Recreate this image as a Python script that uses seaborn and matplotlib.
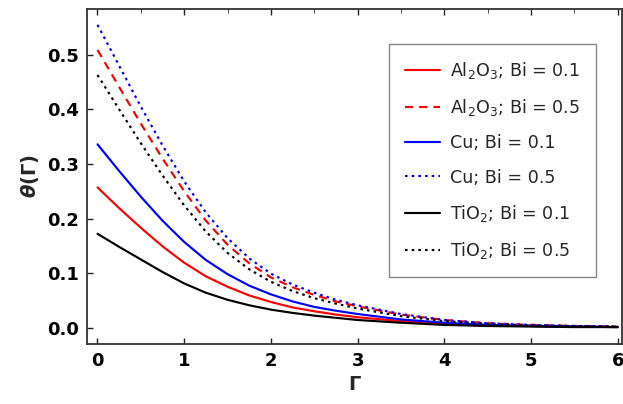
import numpy as np
import pandas as pd
import matplotlib
matplotlib.use("Agg")
import matplotlib.pyplot as plt
import seaborn as sns

gamma = [0, 0.25, 0.5, 0.75, 1.0, 1.25, 1.5, 1.75, 2.0, 2.25, 2.5, 2.75, 3.0, 3.5, 4.0, 4.5, 5.0, 5.5, 6.0]

al2o3_bi01 = [0.257, 0.219, 0.183, 0.149, 0.119, 0.094, 0.075, 0.059, 0.047, 0.037, 0.030, 0.024, 0.019, 0.012, 0.007, 0.004, 0.003, 0.002, 0.001]
al2o3_bi05 = [0.509, 0.441, 0.374, 0.310, 0.250, 0.196, 0.152, 0.118, 0.092, 0.074, 0.060, 0.048, 0.039, 0.024, 0.014, 0.008, 0.005, 0.003, 0.002]
cu_bi01 = [0.336, 0.287, 0.240, 0.196, 0.157, 0.124, 0.098, 0.077, 0.061, 0.048, 0.038, 0.031, 0.025, 0.015, 0.009, 0.005, 0.003, 0.002, 0.001]
cu_bi05 = [0.555, 0.480, 0.405, 0.334, 0.268, 0.211, 0.164, 0.127, 0.099, 0.079, 0.064, 0.051, 0.041, 0.025, 0.014, 0.008, 0.005, 0.003, 0.002]
tio2_bi01 = [0.172, 0.148, 0.125, 0.102, 0.081, 0.064, 0.051, 0.041, 0.033, 0.027, 0.022, 0.018, 0.014, 0.009, 0.005, 0.003, 0.002, 0.001, 0.001]
tio2_bi05 = [0.463, 0.400, 0.338, 0.279, 0.224, 0.176, 0.137, 0.107, 0.084, 0.067, 0.054, 0.044, 0.035, 0.021, 0.012, 0.007, 0.004, 0.003, 0.002]

labels = [
    r"Al$\mathregular{_2}$O$\mathregular{_3}$; Bi = 0.1",
    r"Al$\mathregular{_2}$O$\mathregular{_3}$; Bi = 0.5",
    "Cu; Bi = 0.1",
    "Cu; Bi = 0.5",
    r"TiO$\mathregular{_2}$; Bi = 0.1",
    r"TiO$\mathregular{_2}$; Bi = 0.5",
]
series = [al2o3_bi01, al2o3_bi05, cu_bi01, cu_bi05, tio2_bi01, tio2_bi05]
colors = ["#ff0000", "#ff0000", "#0000ff", "#0000ff", "#000000", "#000000"]
dash_styles = ["", (3.8, 2.8), "", (1.2, 1.9), "", (1.2, 1.9)]

frames = []
for lab, vals in zip(labels, series):
    frames.append(pd.DataFrame({"x": gamma, "y": vals, "series": lab}))
df = pd.concat(frames, ignore_index=True)

sns.set_style("ticks")
plt.rcParams["font.family"] = ["DejaVu Sans"]
plt.rcParams["mathtext.fontset"] = "dejavusans"

W, H = 623, 404
fig = plt.figure(figsize=(W / 100, H / 100), dpi=100)
ax = fig.add_axes([87 / W, 1 - 344 / H, (622 - 87) / W, (344 - 9) / H])

sns.lineplot(
    data=df, x="x", y="y", hue="series", style="series",
    hue_order=labels, style_order=labels,
    palette=dict(zip(labels, colors)),
    dashes=dict(zip(labels, dash_styles)),
    linewidth=1.55, ax=ax, legend=True, sort=False,
)

ax.set_xlim(-0.121, 6.05)
ax.set_ylim(-0.030, 0.584)
ax.set_xticks([0, 1, 2, 3, 4, 5, 6])
ax.set_yticks([0.0, 0.1, 0.2, 0.3, 0.4, 0.5])
ax.set_yticklabels(["0.0", "0.1", "0.2", "0.3", "0.4", "0.5"])
ax.tick_params(axis="both", direction="in", length=4, width=1, labelsize=13,
               colors="#222222", labelcolor="black", pad=6)
for lbl in ax.get_xticklabels() + ax.get_yticklabels():
    lbl.set_fontweight("bold")
ax.tick_params(axis="x", top=True)
ax.set_xticks([0.5, 1.5, 2.5, 3.5, 4.5, 5.5], minor=True)
ax.tick_params(axis="x", which="minor", direction="in", length=3, top=True, bottom=False)

for sp in ax.spines.values():
    sp.set_color("#333333")
    sp.set_linewidth(1.3)

ax.set_xlabel("Γ", fontsize=14, fontweight="bold", labelpad=3)
ax.set_ylabel(r"$\mathbfit{\theta}$(Γ)", fontsize=14, fontweight="bold", labelpad=4)

handles, labs = ax.get_legend_handles_labels()
ax.legend(handles, labs, loc="upper left",
          bbox_to_anchor=(389 / W, 1 - 44 / H), bbox_transform=fig.transFigure,
          fontsize=12.6, frameon=True, fancybox=False, edgecolor="#888888",
          framealpha=1, handlelength=2.0, handletextpad=0.6,
          labelspacing=0.93, borderpad=0.9, borderaxespad=0)
leg = ax.get_legend()
leg.get_frame().set_linewidth(1.0)

fig.savefig("out.png", dpi=100, facecolor="white")
